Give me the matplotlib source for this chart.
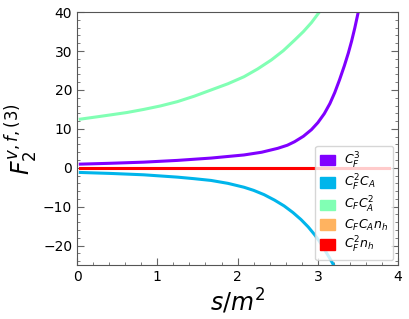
import numpy as np
import matplotlib
matplotlib.use("Agg")
import matplotlib.pyplot as plt
import matplotlib.patches as mpatches
from matplotlib.ticker import MultipleLocator

# values
s_cf3 = [0.04, 0.4, 0.83, 1.25, 1.67, 2.08, 2.3, 2.5, 2.62, 2.71, 2.82, 2.92, 3.0,
         3.08, 3.15, 3.21, 3.27, 3.33, 3.38, 3.42, 3.46, 3.5, 3.53]
cf3 = [0.94, 1.15, 1.45, 1.9, 2.5, 3.3, 4.0, 5.0, 5.8, 6.7, 8.1, 9.8, 11.6,
       13.9, 16.5, 19.3, 22.6, 26.2, 29.5, 32.5, 35.9, 39.7, 43.0]

s_cf2ca = [0.04, 0.42, 0.83, 1.25, 1.46, 1.67, 1.88, 2.08, 2.2, 2.33, 2.46, 2.58,
           2.69, 2.79, 2.88, 2.96, 3.02, 3.08, 3.15, 3.21, 3.25]
cf2ca = [-1.2, -1.45, -1.8, -2.4, -2.8, -3.25, -4.0, -5.0, -5.8, -6.9, -8.3, -9.8,
         -11.5, -13.3, -15.2, -17.2, -18.9, -20.9, -23.3, -25.5, -27.0]

s_cfca2 = [0.04, 0.25, 0.42, 0.62, 0.83, 1.04, 1.25, 1.46, 1.67, 1.88, 2.08, 2.25,
           2.42, 2.57, 2.71, 2.82, 2.92, 3.04, 3.1]
cfca2 = [12.5, 13.1, 13.6, 14.2, 15.0, 15.9, 17.0, 18.4, 20.0, 21.6, 23.4, 25.4,
         27.7, 30.1, 32.8, 35.0, 37.3, 40.6, 42.5]

s_nh = [0.04, 1.0, 2.0, 3.0, 3.89]
cfcanh = [0.0, 0.0, 0.0, 0.0, 0.0]
cf2nh = [0.0, 0.0, 0.0, 0.0, 0.0]

labels = [r"$C_F^3$", r"$C_F^2C_A$", r"$C_FC_A^2$", r"$C_FC_An_h$", r"$C_F^2n_h$"]

colors = plt.cm.rainbow(np.linspace(0, 1, 5))

fig = plt.figure(figsize=(4.1, 3.19), dpi=100)
ax = fig.add_axes([0.188, 0.169, 0.783, 0.793])

lw = 2.2
ax.plot(s_cf3, cf3, color=colors[0], lw=lw)
ax.plot(s_cf2ca, cf2ca, color=colors[1], lw=lw)
ax.plot(s_cfca2, cfca2, color=colors[2], lw=lw)
ax.plot(s_nh, cfcanh, color=colors[3], lw=lw)
ax.plot(s_nh, cf2nh, color=colors[4], lw=lw)

ax.set_xlim(0, 4)
ax.set_ylim(-25, 40)
ax.xaxis.set_major_locator(MultipleLocator(1))
ax.xaxis.set_minor_locator(MultipleLocator(0.2))
ax.yaxis.set_major_locator(MultipleLocator(10))
ax.yaxis.set_minor_locator(MultipleLocator(2))

for sp in ax.spines.values():
    sp.set_color("#555555")
ax.tick_params(which="both", direction="in", right=True, top=False, color="#666666", labelsize=10)
ax.tick_params(which="major", length=5)
ax.tick_params(which="minor", length=2.5)

ax.set_xlabel(r"$s/m^2$", fontsize=17, labelpad=2)
ax.set_ylabel(r"$F_2^{v,f,(3)}$", fontsize=17, labelpad=2)

handles = [mpatches.Patch(color=c, label=l) for c, l in zip(colors, labels)]
ax.legend(handles=handles, loc="lower right", fontsize=9, handlelength=1.2,
          handleheight=0.9, borderaxespad=0.4, labelspacing=0.18, handletextpad=0.7)

fig.savefig("out.png", dpi=100)
